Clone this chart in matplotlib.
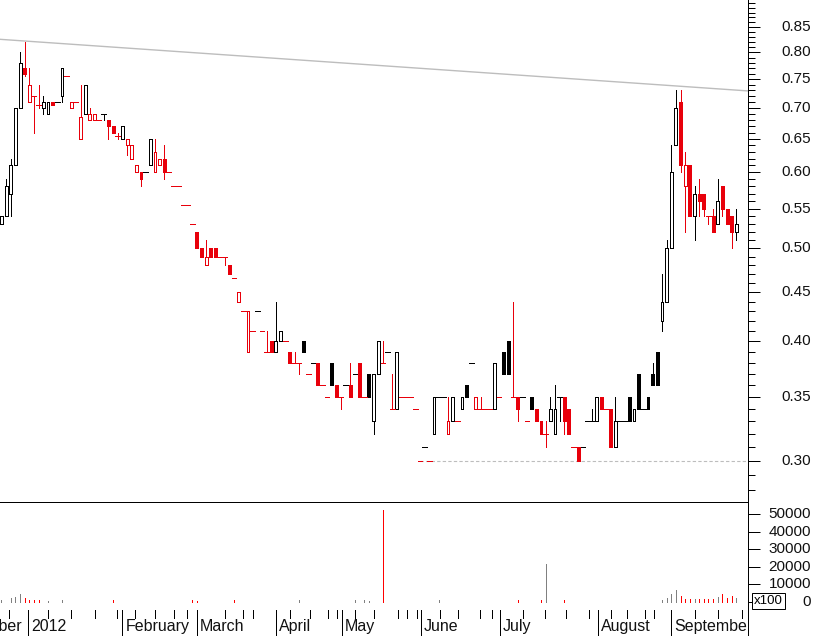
import numpy as np
import matplotlib
matplotlib.use("Agg")
import matplotlib.pyplot as plt
import matplotlib.transforms as mtrans

plt.rcParams['font.family'] = ['Liberation Sans', 'DejaVu Sans']

# ---------------- data (one entry per trading day shown) ----------------
opens = [0.53, 0.54, 0.57, 0.61, 0.70, 0.77, 0.71, 0.72, 0.705, 0.70,
         0.69, 0.71, 0.71, 0.72, 0.755, 0.70, 0.71, 0.65, 0.69, 0.68,
         0.68, 0.68, 0.69, 0.68, 0.67, 0.655, 0.65, 0.64, 0.62, 0.60,
         0.60, 0.60, 0.61, 0.60, 0.61, 0.62, 0.60, 0.58, 0.58, 0.555,
         0.555, 0.53, 0.52, 0.50, 0.48, 0.50, 0.50, 0.49, 0.49, 0.48,
         0.465, 0.44, 0.43, 0.39, 0.41, 0.43, 0.41, 0.39, 0.40, 0.39,
         0.40, 0.40, 0.39, 0.38, 0.38, 0.40, 0.37, 0.38, 0.38, 0.36,
         0.35, 0.38, 0.36, 0.35, 0.36, 0.36, 0.37, 0.38, 0.35, 0.37,
         0.33, 0.37, 0.38, 0.39, 0.34, 0.34, 0.35, 0.35, 0.35, 0.34,
         0.30, 0.31, 0.30, 0.32, 0.35, 0.35, 0.32, 0.33, 0.33, 0.34,
         0.36, 0.38, 0.34, 0.34, 0.34, 0.34, 0.34, 0.35, 0.39, 0.40,
         0.35, 0.35, 0.35, 0.33, 0.35, 0.34, 0.33, 0.32, 0.33, 0.32,
         0.35, 0.35, 0.34, 0.31, 0.31, 0.31, 0.33, 0.33, 0.33, 0.35,
         0.34, 0.34, 0.31, 0.33, 0.33, 0.35, 0.33, 0.37, 0.34, 0.35,
         0.37, 0.39, 0.42, 0.44, 0.50, 0.64, 0.71, 0.58, 0.61, 0.54,
         0.57, 0.57, 0.54, 0.54, 0.53, 0.58, 0.55, 0.54, 0.52]
highs = [0.54, 0.59, 0.62, 0.70, 0.80, 0.82, 0.77, 0.72, 0.74, 0.72,
         0.71, 0.71, 0.71, 0.77, 0.755, 0.71, 0.71, 0.74, 0.74, 0.70,
         0.69, 0.68, 0.69, 0.68, 0.67, 0.66, 0.67, 0.65, 0.64, 0.61,
         0.60, 0.60, 0.65, 0.65, 0.62, 0.64, 0.60, 0.58, 0.58, 0.555,
         0.555, 0.53, 0.52, 0.50, 0.51, 0.50, 0.50, 0.49, 0.49, 0.48,
         0.465, 0.45, 0.43, 0.43, 0.41, 0.43, 0.41, 0.41, 0.40, 0.44,
         0.41, 0.40, 0.39, 0.39, 0.38, 0.40, 0.37, 0.38, 0.38, 0.36,
         0.35, 0.38, 0.36, 0.35, 0.36, 0.38, 0.37, 0.38, 0.35, 0.37,
         0.37, 0.40, 0.40, 0.39, 0.37, 0.39, 0.35, 0.35, 0.35, 0.34,
         0.30, 0.31, 0.30, 0.35, 0.35, 0.35, 0.35, 0.35, 0.33, 0.35,
         0.36, 0.38, 0.35, 0.35, 0.34, 0.34, 0.38, 0.35, 0.39, 0.40,
         0.44, 0.35, 0.35, 0.33, 0.35, 0.34, 0.33, 0.33, 0.35, 0.36,
         0.35, 0.35, 0.34, 0.31, 0.31, 0.31, 0.33, 0.34, 0.35, 0.35,
         0.34, 0.34, 0.35, 0.33, 0.33, 0.35, 0.34, 0.37, 0.34, 0.35,
         0.38, 0.39, 0.47, 0.51, 0.64, 0.73, 0.73, 0.63, 0.61, 0.58,
         0.59, 0.57, 0.54, 0.55, 0.59, 0.58, 0.55, 0.54, 0.55]
lows = [0.53, 0.54, 0.54, 0.61, 0.70, 0.755, 0.71, 0.66, 0.70, 0.69,
        0.69, 0.705, 0.71, 0.71, 0.755, 0.70, 0.71, 0.65, 0.69, 0.68,
        0.68, 0.68, 0.68, 0.65, 0.66, 0.65, 0.65, 0.625, 0.62, 0.60,
        0.58, 0.60, 0.61, 0.60, 0.61, 0.59, 0.60, 0.58, 0.58, 0.555,
        0.555, 0.53, 0.50, 0.49, 0.48, 0.49, 0.49, 0.49, 0.48, 0.47,
        0.465, 0.44, 0.43, 0.39, 0.41, 0.43, 0.41, 0.39, 0.39, 0.39,
        0.40, 0.40, 0.38, 0.38, 0.37, 0.39, 0.37, 0.38, 0.36, 0.36,
        0.35, 0.36, 0.35, 0.34, 0.36, 0.35, 0.37, 0.35, 0.35, 0.35,
        0.32, 0.37, 0.38, 0.39, 0.34, 0.34, 0.35, 0.35, 0.35, 0.34,
        0.30, 0.31, 0.30, 0.32, 0.35, 0.35, 0.32, 0.33, 0.33, 0.34,
        0.35, 0.38, 0.34, 0.34, 0.34, 0.34, 0.34, 0.35, 0.37, 0.37,
        0.35, 0.33, 0.35, 0.33, 0.34, 0.33, 0.32, 0.31, 0.33, 0.32,
        0.33, 0.32, 0.32, 0.31, 0.30, 0.31, 0.33, 0.33, 0.33, 0.34,
        0.34, 0.31, 0.31, 0.33, 0.33, 0.33, 0.33, 0.34, 0.34, 0.34,
        0.36, 0.36, 0.41, 0.44, 0.50, 0.64, 0.60, 0.52, 0.54, 0.51,
        0.54, 0.54, 0.53, 0.52, 0.53, 0.54, 0.53, 0.50, 0.51]
closes = [0.54, 0.58, 0.61, 0.70, 0.78, 0.76, 0.74, 0.72, 0.705, 0.71,
          0.71, 0.705, 0.71, 0.77, 0.755, 0.71, 0.71, 0.685, 0.74, 0.69,
          0.69, 0.68, 0.69, 0.67, 0.66, 0.655, 0.67, 0.65, 0.64, 0.61,
          0.59, 0.60, 0.65, 0.63, 0.62, 0.60, 0.60, 0.58, 0.58, 0.555,
          0.555, 0.53, 0.50, 0.49, 0.49, 0.49, 0.49, 0.49, 0.49, 0.47,
          0.465, 0.45, 0.43, 0.43, 0.41, 0.43, 0.41, 0.39, 0.39, 0.40,
          0.41, 0.40, 0.38, 0.38, 0.38, 0.39, 0.37, 0.38, 0.36, 0.36,
          0.35, 0.36, 0.35, 0.35, 0.36, 0.35, 0.37, 0.35, 0.35, 0.35,
          0.37, 0.40, 0.38, 0.39, 0.34, 0.39, 0.35, 0.35, 0.35, 0.34,
          0.30, 0.31, 0.30, 0.35, 0.35, 0.35, 0.33, 0.35, 0.33, 0.35,
          0.35, 0.38, 0.35, 0.34, 0.34, 0.34, 0.38, 0.35, 0.37, 0.37,
          0.35, 0.34, 0.35, 0.33, 0.34, 0.33, 0.32, 0.32, 0.34, 0.34,
          0.35, 0.33, 0.32, 0.31, 0.30, 0.31, 0.33, 0.33, 0.35, 0.34,
          0.34, 0.31, 0.33, 0.33, 0.33, 0.33, 0.34, 0.34, 0.34, 0.34,
          0.36, 0.36, 0.44, 0.50, 0.60, 0.70, 0.61, 0.61, 0.54, 0.57,
          0.56, 0.55, 0.54, 0.52, 0.56, 0.55, 0.53, 0.52, 0.53]
# 1 = up day (black), 0 = down day (red)
up_day = [1, 1, 1, 1, 1, 0, 0, 0, 0, 1,
          1, 0, 1, 1, 0, 0, 0, 0, 1, 0,
          0, 0, 1, 0, 0, 0, 1, 0, 0, 0,
          0, 1, 1, 0, 0, 0, 0, 0, 0, 0,
          0, 0, 0, 0, 0, 0, 0, 0, 0, 0,
          0, 0, 0, 0, 0, 1, 0, 0, 0, 1,
          1, 0, 0, 0, 0, 1, 0, 1, 0, 0,
          0, 1, 0, 0, 1, 0, 1, 0, 0, 1,
          1, 1, 0, 1, 0, 1, 0, 0, 0, 0,
          0, 1, 0, 1, 1, 1, 0, 1, 0, 1,
          1, 1, 0, 0, 0, 0, 1, 0, 1, 1,
          0, 0, 1, 0, 1, 0, 0, 0, 1, 1,
          1, 0, 0, 0, 0, 1, 1, 1, 1, 0,
          0, 0, 1, 1, 1, 1, 1, 1, 1, 1,
          1, 1, 1, 1, 1, 1, 0, 0, 0, 1,
          0, 0, 0, 0, 1, 0, 0, 0, 1]

# volume (x100), only days with trades
vol_idx = [0, 2, 3, 4, 5, 6, 7, 8, 10, 13,
           24, 41, 42, 50, 64, 76, 78, 79, 82, 94,
           111, 116, 117, 121, 142, 143, 144, 145, 146, 147,
           148, 149, 150, 151, 152, 153, 154, 155, 156, 157, 158]
vol_val = [1100, 2100, 3000, 4500, 2300, 1300, 1100, 1100, 700, 900,
           1100, 1100, 500, 1100, 1100, 900, 900, 500, 52300, 1100,
           1100, 1100, 21600, 1100, 1100, 2300, 4300, 6800, 3600, 1500,
           1500, 1500, 1500, 1500, 1500, 1500, 3000, 4500, 2300, 3600, 2300]
vol_up = [1, 1, 1, 1, 0, 0, 0, 0, 1, 1,
          0, 0, 0, 0, 1, 1, 1, 1, 0, 1,
          0, 0, 1, 0, 1, 1, 1, 1, 0, 0,
          0, 1, 0, 0, 0, 0, 1, 0, 0, 0, 1]

# trend line anchors (index, price) and support level
trend_pts_x = [5, 145]
trend_pts_y = [0.822, 0.738]
support_level = 0.30
support_from = 90

# calendar (positions in trading-day index units)
month_pos = [-12.0, 5.8, 26.0, 42.0, 59.0, 73.2, 90.2, 107.2, 128.3, 144.0]
month_labels = ['December', '2012', 'February', 'March', 'April', 'May',
                'June', 'July', 'August', 'September']
week_pos = [1.7, 9.9, 14.9, 20.1, 24.8, 28.7, 33.0, 37.0, 39.8, 48.1,
            52.0, 54.0, 62.0, 66.4, 70.3, 72.1, 75.9, 80.0, 85.3, 87.1,
            89.3, 94.2, 98.1, 102.9, 105.4, 112.1, 116.9, 121.3, 126.3,
            131.1, 134.5, 138.4, 140.2, 149.2, 154.1, 159.2]

price_major = [0.30, 0.35, 0.40, 0.45, 0.50, 0.55, 0.60, 0.65, 0.70, 0.75, 0.80, 0.85]
vol_major = [0, 10000, 20000, 30000, 40000, 50000]

# ---------------- figure ----------------
W, H = 817, 636
fig = plt.figure(figsize=(W / 100, H / 100), dpi=100, facecolor='white')
axw = 748 / W
ax = fig.add_axes([0, 1 - 502 / H, axw, 502 / H])
axv = fig.add_axes([0, 1 - 610 / H, axw, 108 / H])
axd = fig.add_axes([0, 0, axw, 26 / H])

RED = '#e8000b'
BLK = '#000000'
LW = 0.72

o = np.array(opens); h = np.array(highs); l = np.array(lows); c = np.array(closes)
n = len(c)
x = np.arange(n)
cols = [BLK if u else RED for u in up_day]
xmin, xmax = -0.32, 160.5

# wicks
ax.vlines(x, l, h, colors=cols, lw=LW, antialiased=False, zorder=2)
# bodies
lo = np.minimum(o, c); hi = np.maximum(o, c)
m = hi > lo
faces = ['white' if c[i] > o[i] else cols[i] for i in range(n)]
ax.bar(x[m], (hi - lo)[m], bottom=lo[m], width=0.62,
       color=[faces[i] for i in range(n) if m[i]],
       edgecolor=[cols[i] for i in range(n) if m[i]],
       linewidth=LW, antialiased=False, zorder=3)
# doji / flat days
d = ~m
ax.hlines(o[d], x[d] - 0.5, x[d] + 0.5, colors=[cols[i] for i in range(n) if d[i]],
          lw=LW, antialiased=False, zorder=3)

# trend line
slope = (np.log(trend_pts_y[1]) - np.log(trend_pts_y[0])) / (trend_pts_x[1] - trend_pts_x[0])
tx = np.array([xmin, xmax])
ty = np.exp(np.log(trend_pts_y[0]) + slope * (tx - trend_pts_x[0]))
ax.plot(tx, ty, color='#bdbdbd', lw=1.0, zorder=1)
# support
ax.hlines(support_level, support_from, xmax, colors='#bdbdbd', lw=0.8,
          linestyles=(0, (3, 2)), zorder=1)

ax.set_yscale('log')
ax.set_ylim(0.272, 0.907)
ax.set_xlim(xmin, xmax)
for s in ['left', 'top', 'bottom']:
    ax.spines[s].set_visible(False)
ax.spines['right'].set_linewidth(LW)
ax.set_xticks([])
ax.yaxis.tick_right()
ax.set_yticks(price_major)
ax.set_yticks([v / 100 for v in range(28, 91)], minor=True)
ax.set_yticklabels([])
ax.yaxis.set_minor_formatter(plt.NullFormatter())
ax.tick_params(axis='y', which='major', length=8.4, width=LW, direction='out', right=True)
ax.tick_params(axis='y', which='minor', length=4.8, width=LW, direction='out', right=True)
tr = mtrans.blended_transform_factory(fig.transFigure, ax.transData)
for v in price_major:
    ax.text(811 / W, v, f'{v:.2f}', transform=tr, ha='right', va='center',
            fontsize=11, color='#111111', clip_on=False)

# volume
vcols = ['#808080' if u else '#ff0000' for u in vol_up]
axv.vlines(vol_idx, 0, vol_val, colors=vcols, lw=LW, antialiased=False)
axv.set_xlim(xmin, xmax)
axv.set_ylim(-4545, 56818)
axv.spines['left'].set_visible(False)
for s in ['top', 'bottom', 'right']:
    axv.spines[s].set_linewidth(LW)
axv.set_xticks([])
axv.yaxis.tick_right()
axv.set_yticks(vol_major)
axv.set_yticklabels([])
axv.tick_params(axis='y', which='major', length=8.4, width=LW, direction='out', right=True)
trv = mtrans.blended_transform_factory(fig.transFigure, axv.transData)
for v in vol_major:
    axv.text(811 / W, v, f'{v:d}', transform=trv, ha='right', va='center',
             fontsize=11, color='#111111', clip_on=False)
fig.text(768.5 / W, 1 - 601 / H, 'x100', ha='center', va='center', fontsize=9.5,
         bbox=dict(boxstyle='square,pad=0.12', fc='white', ec='black', lw=LW))

# date strip
axd.set_xlim(xmin, xmax)
axd.set_ylim(0, 1)
for s in ['left', 'top', 'bottom']:
    axd.spines[s].set_visible(False)
axd.spines['right'].set_linewidth(LW)
axd.set_xticks([]); axd.set_yticks([])
axd.vlines([p for p in month_pos if p >= 0], 0, 1, colors='black', lw=LW, antialiased=False)
axd.vlines(week_pos, 0.70, 1, colors='black', lw=LW, antialiased=False)
trd = mtrans.blended_transform_factory(axd.transData, axd.transAxes)
for p, lab in zip(month_pos, month_labels):
    axd.text(p + 0.65, 0.38, lab, transform=trd, ha='left', va='center',
             fontsize=11.5, color='#111111', clip_on=True)

fig.savefig('out.png', dpi=100, facecolor='white')
